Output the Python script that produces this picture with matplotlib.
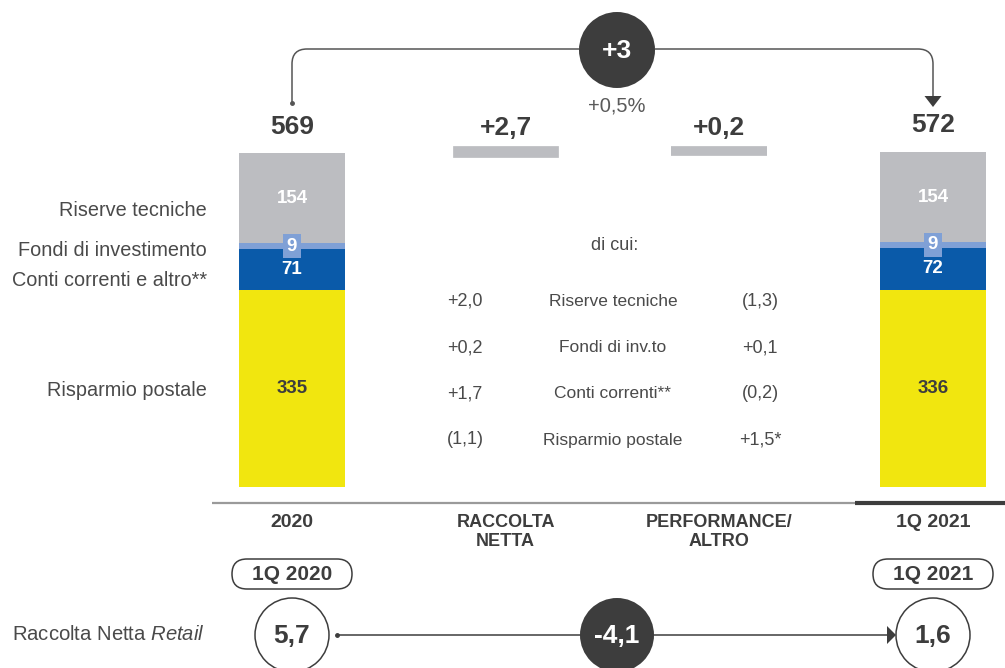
import matplotlib
matplotlib.use("Agg")
import matplotlib.pyplot as plt
import matplotlib.transforms as mtransforms
from matplotlib.patches import Circle, FancyBboxPatch, Polygon, PathPatch
from matplotlib.path import Path

plt.rcParams['font.family'] = ['Liberation Sans', 'DejaVu Sans']
plt.rcParams['mathtext.fontset'] = 'custom'
plt.rcParams['mathtext.rm'] = 'Liberation Sans'
plt.rcParams['mathtext.it'] = 'Liberation Sans:italic'

# stocks by component, bottom to top
components = ["Risparmio postale", "Conti correnti e altro**",
              "Fondi di investimento", "Riserve tecniche"]
stock_2020 = [335, 71, 9, 154]
stock_1q21 = [336, 72, 9, 154]
total_labels = ["569", "572"]

# flows between the two dates
flows = [2.7, 0.2]
flow_labels = ["+2,7", "+0,2"]

columns = ["2020", "RACCOLTA\nNETTA", "PERFORMANCE/\nALTRO", "1Q 2021"]

detail_names = ["Riserve tecniche", "Fondi di inv.to", "Conti correnti**", "Risparmio postale"]
detail_raccolta = ["+2,0", "+0,2", "+1,7", "(1,1)"]
detail_perf = ["(1,3)", "+0,1", "(0,2)", "+1,5*"]

change_abs = "+3"
change_pct = "+0,5%"

retail_periods = ["1Q 2020", "1Q 2021"]
retail_values = ["5,7", "1,6"]
retail_change = "-4,1"

colors = ['#f1e60f', '#0a5aa9', '#7fa0d6', '#bcbdc1']
dark = '#3d3d3d'
txt = '#4a4a4a'
label_colors = [dark, 'white', 'white', 'white']

fig = plt.figure(figsize=(10.05, 6.68), dpi=100)

# bar axes: category 0 at x=292px, 3 at x=933px; value 0 at y=487px
ax = fig.add_axes([0.18425, 0.27096, 0.8079, 0.52725])
ax.set_xlim(-0.5, 3.3)
ax.set_ylim(0, 600)
ax.axis('off')

# overlay in pixel coordinates for the decorations
ov = fig.add_axes([0, 0, 1, 1], zorder=3)
ov.set_xlim(0, 1005)
ov.set_ylim(668, 0)
ov.axis('off')
ov.patch.set_alpha(0)

bw = 0.496
for x, stock in [(0, stock_2020), (3, stock_1q21)]:
    bottom = 0
    for v, c, lc in zip(stock, colors, label_colors):
        ax.bar(x, v, bw, bottom=bottom, color=c, linewidth=0)
        box = None
        if c == colors[2]:
            box = dict(boxstyle='square,pad=0.2', fc=c, ec='none')
        ax.text(x, bottom + v / 2, str(v), color=lc, fontsize=13.5,
                fontweight='bold', ha='center', va='center', bbox=box)
        bottom += v

# totals above the stacked bars
for x, stock, lab in [(0, stock_2020, total_labels[0]), (3, stock_1q21, total_labels[1])]:
    ax.annotate(lab, (x, sum(stock)), xytext=(0, 19), textcoords='offset points',
                ha='center', va='center', fontsize=19, fontweight='bold', color=dark)

# floating flow bars, thickened with an edge so they stay visible
level = sum(stock_2020)
for x, f, lab in zip([1, 2], flows, flow_labels):
    ax.bar(x, f, 0.45, bottom=level, color='#bcbdc1', edgecolor='#bcbdc1',
           linewidth=7, joinstyle='miter')
    ax.annotate(lab, (x, level + f), xytext=(0, 17), textcoords='offset points',
                ha='center', va='center', fontsize=19, fontweight='bold', color=dark)
    level += f

# baseline
ov.plot([212, 855], [502.5, 502.5], color='#9a9a9a', lw=1.6, solid_capstyle='butt')
ov.plot([855, 1005], [503, 503], color=dark, lw=3, solid_capstyle='butt')

# column titles
blend = mtransforms.blended_transform_factory(ax.transData, ov.transData)
for i, name in enumerate(columns):
    fs = 13 if '\n' in name else 14
    ov.text(i, 514, name, transform=blend, ha='center', va='top', fontsize=fs,
            fontweight='bold', color=dark, linespacing=1.15)

# component names on the left
for name, y in zip(components, [391, 280, 251, 211]):
    ov.text(207, y, name, ha='right', va='center', fontsize=14.3, color=txt)

# breakdown of the flows
ov.text(615, 245, "di cui:", ha='center', va='center', fontsize=13, color=txt)
for y, a, n, b in zip([301, 348, 394, 440], detail_raccolta, detail_names, detail_perf):
    ov.text(465, y, a, ha='center', va='center', fontsize=13, color=txt)
    ov.text(613, y, n, ha='center', va='center', fontsize=12.5, color=txt)
    ov.text(760, y, b, ha='center', va='center', fontsize=13, color=txt)

# connector at the top with the overall change
r = 15
left = Path([(292, 103), (292, 49 + r), (292, 49), (292 + r, 49), (579, 49)],
            [Path.MOVETO, Path.LINETO, Path.CURVE3, Path.CURVE3, Path.LINETO])
right = Path([(655, 49), (933 - r, 49), (933, 49), (933, 49 + r), (933, 97)],
             [Path.MOVETO, Path.LINETO, Path.CURVE3, Path.CURVE3, Path.LINETO])
for p in (left, right):
    ov.add_patch(PathPatch(p, fc='none', ec='#555555', lw=1.1))
ov.plot([292], [103], 'o', ms=2.5, color='#555555')
ov.add_patch(Polygon([(924.5, 96), (941.5, 96), (933, 107)], closed=True,
                     fc=dark, ec='none'))
ov.add_patch(Circle((617, 50), 38, fc=dark, ec='none'))
ov.text(617, 51, change_abs, ha='center', va='center', fontsize=19,
        fontweight='bold', color='white')
ov.text(617, 106, change_pct, ha='center', va='center', fontsize=14.5, color='#5a5a5a')

# retail net inflows row
for cx, per, val in zip([292, 933], retail_periods, retail_values):
    ov.add_patch(FancyBboxPatch((cx - 60, 559), 120, 30,
                                boxstyle='round,pad=0,rounding_size=15',
                                fc='white', ec=dark, lw=1.1))
    ov.text(cx, 575, per, ha='center', va='center', fontsize=15,
            fontweight='bold', color=dark)
    ov.add_patch(Circle((cx, 635), 37, fc='white', ec=dark, lw=1.1, zorder=3))
    ov.text(cx, 636, val, ha='center', va='center', fontsize=19,
            fontweight='bold', color=dark, zorder=4)

ov.plot([337, 887], [635, 635], color=dark, lw=1.1, zorder=1)
ov.plot([337], [635], 'o', ms=2.5, color=dark)
ov.add_patch(Polygon([(887, 626), (887, 644), (896, 635)], closed=True,
                     fc=dark, ec='none', zorder=2))
ov.add_patch(Circle((617, 635), 37, fc=dark, ec='none', zorder=3))
ov.text(617, 636, retail_change, ha='center', va='center', fontsize=19,
        fontweight='bold', color='white', zorder=4)

ov.text(205, 635, r"Raccolta Netta $\it{Retail}$", ha='right', va='center',
        fontsize=14.6, color=txt)

fig.savefig("out.png", dpi=100)
